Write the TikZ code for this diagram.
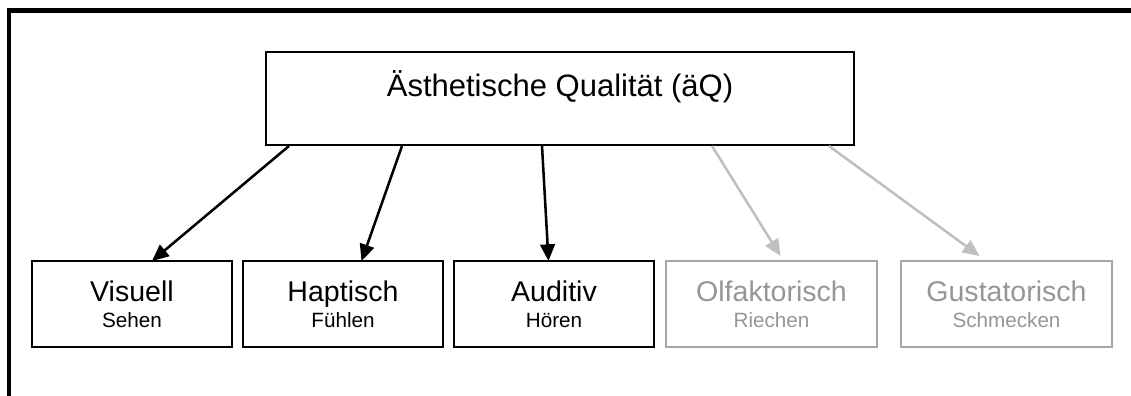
\documentclass[tikz,border=0pt]{standalone}
\usepackage{fontspec}
\setmainfont{Liberation Sans}
\usetikzlibrary{positioning,arrows.meta,calc}
\definecolor{lightline}{RGB}{191,191,191}
\definecolor{greybox}{RGB}{166,166,166}
\definecolor{greytext}{RGB}{150,150,150}

\begin{document}
\begin{tikzpicture}[x=0.75pt, y=-0.75pt, thick]
\tikzstyle{sense} = [rectangle, draw, line width=1.5pt, minimum width=150pt, minimum height=64.5pt,
                     inner sep=0pt, outer sep=0pt, align=center, font=\fontsize{21.4}{19.5}\selectfont]
\tikzstyle{faded} = [sense, draw=greybox, text=greytext, minimum width=158.25pt]
\tikzstyle{line} = [draw, line width=1.9pt, -{Triangle[length=12.5pt, width=11pt]}]
\tikzstyle{fadedline} = [line, draw=lightline, color=lightline]

\useasboundingbox (0,0) rectangle (1131,396);
\draw [line width=3.4pt] (9,396) -- (9,10.5) -- (1131,10.5);

\node [rectangle, draw, line width=1.5pt, minimum width=441pt, minimum height=69.75pt, inner ysep=0pt,
       text height=33pt, text depth=36.75pt, font=\fontsize{23.25}{28}\selectfont] (aeq) at (560,98.5) {Ästhetische Qualität (äQ)};

\node [sense] (visuell) at (132,304) {Visuell\\{\fontsize{15.5}{19.5}\selectfont Sehen}};
\node [sense, right=8.25pt of visuell] (haptisch) {Haptisch\\{\fontsize{15.5}{19.5}\selectfont Fühlen}};
\node [sense, right=8.25pt of haptisch] (auditiv) {Auditiv\\{\fontsize{15.5}{19.5}\selectfont Hören}};
\node [faded, right=9pt of auditiv] (olfaktorisch) {Olfaktorisch\\{\fontsize{15.5}{19.5}\selectfont Riechen}};
\node [faded, right=18pt of olfaktorisch] (gustatorisch) {Gustatorisch\\{\fontsize{15.5}{19.5}\selectfont Schmecken}};

\path [line] ($(aeq.south west)+(24,0)$) -- ($(visuell.north)+(20,0)$);
\path [line] ($(aeq.south west)+(137,0)$) -- ($(haptisch.north)+(18.5,0)$);
\path [line] ($(aeq.south west)+(277,0)$) -- ($(auditiv.north)+(-5.5,0)$);
\path [fadedline] ($(aeq.south west)+(447,0)$) -- ($(olfaktorisch.north)+(9,-5)$);
\path [fadedline] ($(aeq.south west)+(564,0)$) -- ($(gustatorisch.north)+(-27,-5)$);
\end{tikzpicture}
\end{document}
